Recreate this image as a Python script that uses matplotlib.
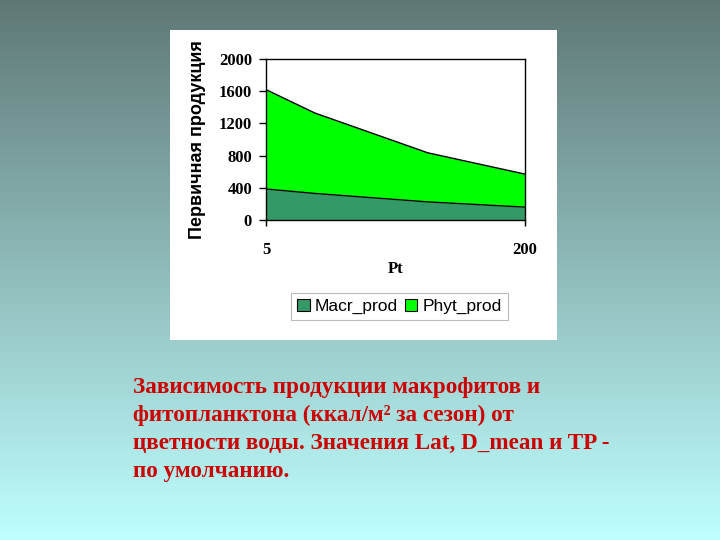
import matplotlib
matplotlib.use("Agg")
import matplotlib.pyplot as plt
import numpy as np
from matplotlib.patches import Rectangle, Patch

pt = [5, 10, 50, 200]
macr_prod = [385, 330, 225, 160]
phyt_prod = [1235, 1000, 610, 410]
yticks = [0, 400, 800, 1200, 1600, 2000]
xticks = [5, 200]
series_names = ["Macr_prod", "Phyt_prod"]
caption_lines = [
    "Зависимость продукции макрофитов и",
    "фитопланктона (ккал/м² за сезон) от",
    "цветности воды. Значения Lat, D_mean и TP -",
    "по умолчанию.",
]

W, H = 720, 540
fig = plt.figure(figsize=(7.2, 5.4), dpi=100)

# gradient background
bg = fig.add_axes([0, 0, 1, 1], zorder=-10)
top = np.array([0.37, 0.47, 0.46])
bot = np.array([0.75, 1.0, 1.0])
t = np.linspace(0, 1, 256)[:, None]
grad = top[None, None, :] * (1 - t[:, :, None]) + bot[None, None, :] * t[:, :, None]
grad = np.repeat(grad, 2, axis=1)
bg.imshow(grad, aspect="auto", extent=[0, 1, 0, 1], origin="upper")
bg.set_axis_off()

# white panel
fig.patches.append(Rectangle((170 / W, 1 - 340 / H), 387 / W, 310 / H,
                             transform=fig.transFigure, facecolor="white",
                             edgecolor="none", zorder=-5))

ax = fig.add_axes([266 / W, 1 - 220 / H, 259 / W, 161 / H])
ax.set_facecolor("white")
x = np.array(pt, dtype=float)
m = np.array(macr_prod, dtype=float)
p = np.array(phyt_prod, dtype=float)
c_macr = "#339966"
c_phyt = "#00FF00"
ax.fill_between(x, 0, m, color=c_macr, lw=0)
ax.fill_between(x, m, m + p, color=c_phyt, lw=0)
ax.plot(x, m, color="black", lw=1.0)
ax.plot(x, m + p, color="black", lw=1.0)
ax.set_xscale("log")
ax.set_xlim(5, 200)
ax.set_ylim(0, 2000)
ax.set_yticks(yticks)
ax.set_xticks(xticks)
ax.set_xticklabels([str(v) for v in xticks])
ax.minorticks_off()
for s in ax.spines.values():
    s.set_color("black")
    s.set_linewidth(1.0)

serif = ["Liberation Serif", "DejaVu Serif"]
sans = ["Liberation Sans", "DejaVu Sans"]
for lab in ax.get_yticklabels() + ax.get_xticklabels():
    lab.set_fontfamily(serif)
    lab.set_fontweight("bold")
    lab.set_fontsize(12)
ax.tick_params(axis="y", length=5, width=1, pad=5)
ax.tick_params(axis="x", length=4, width=1, pad=12)
ax.set_xlabel("Pt", family=serif, fontweight="bold", fontsize=12, labelpad=2)
ax.set_ylabel("Первичная продукция", family=sans, fontweight="bold",
              fontsize=13, labelpad=9)

handles = [Patch(facecolor=c_macr, edgecolor="black", lw=0.8),
           Patch(facecolor=c_phyt, edgecolor="black", lw=0.8)]
leg = fig.legend(handles, series_names, loc="center",
                 bbox_to_anchor=(399.5 / W, 1 - 306.5 / H), ncol=2,
                 prop={"family": sans, "size": 12.5},
                 handlelength=0.7, handleheight=0.7, handletextpad=0.3,
                 columnspacing=0.4, borderpad=0.35, fancybox=False,
                 frameon=True)
leg.get_frame().set_edgecolor("#aaaaaa")
leg.get_frame().set_linewidth(0.8)

baselines = [393, 421, 449, 477]
for line, yb in zip(caption_lines, baselines):
    fig.text(133 / W, 1 - yb / H, line, family=serif, fontweight="bold",
             fontsize=16.7, color="#CC0000", va="baseline", ha="left")

fig.savefig("out.png", dpi=100)
